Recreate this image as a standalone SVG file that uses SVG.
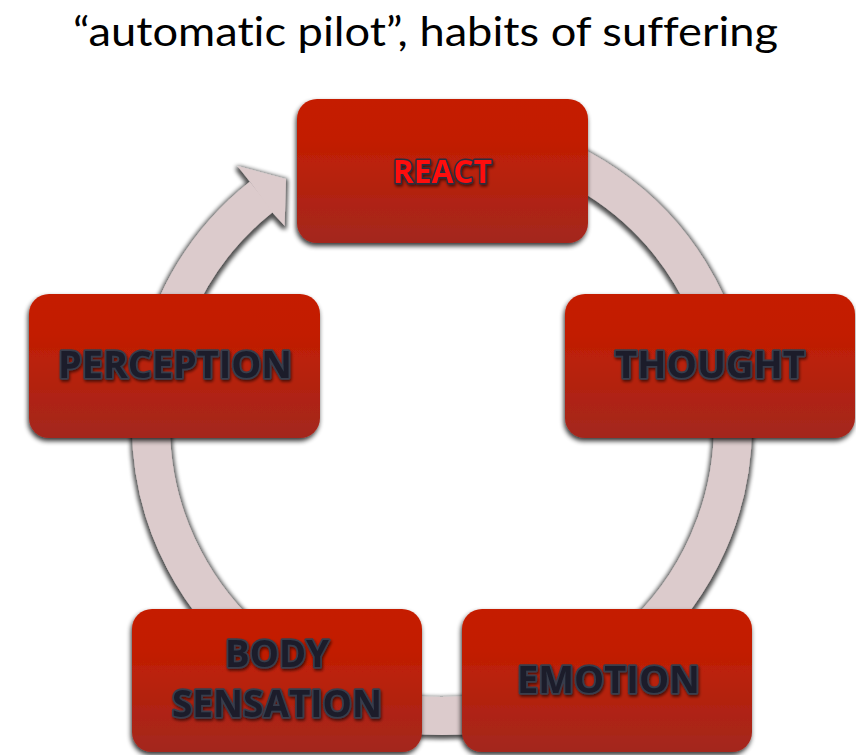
<svg xmlns="http://www.w3.org/2000/svg" width="856" height="755" viewBox="0 0 856 755">
  <defs>
    <linearGradient id="boxGrad" x1="0" y1="0" x2="0" y2="1">
      <stop offset="0" stop-color="#c51d00"/>
      <stop offset="0.28" stop-color="#c21e02"/>
      <stop offset="1" stop-color="#a3271e"/>
    </linearGradient>
    <filter id="boxShadow" x="-10%" y="-10%" width="120%" height="130%">
      <feGaussianBlur in="SourceAlpha" stdDeviation="2.5"/>
      <feOffset dx="-1" dy="3" result="b"/>
      <feComponentTransfer><feFuncA type="linear" slope="0.8"/></feComponentTransfer>
      <feMerge><feMergeNode/><feMergeNode in="SourceGraphic"/></feMerge>
    </filter>
    <filter id="ringShadow" x="-10%" y="-10%" width="120%" height="120%">
      <feMorphology in="SourceAlpha" operator="dilate" radius="1.5"/>
      <feGaussianBlur stdDeviation="2"/>
      <feOffset dx="0" dy="1.5" result="b"/>
      <feComponentTransfer><feFuncA type="linear" slope="0.7"/></feComponentTransfer>
      <feMerge><feMergeNode/><feMergeNode in="SourceGraphic"/></feMerge>
    </filter>
    <filter id="textShadow" x="-10%" y="-20%" width="120%" height="150%">
      <feGaussianBlur in="SourceAlpha" stdDeviation="1.5"/>
      <feOffset dx="1" dy="2"/>
      <feComponentTransfer><feFuncA type="linear" slope="0.6"/></feComponentTransfer>
      <feMerge><feMergeNode/><feMergeNode in="SourceGraphic"/></feMerge>
    </filter>
  </defs>
  <style>
    .box { fill: url(#boxGrad); filter: url(#boxShadow); }
    .lbl { font-family: "Open Sans", "Liberation Sans", sans-serif; font-weight: 700; font-size: 37px; text-anchor: middle; fill: #1b1e2c; stroke: #383d4c; stroke-width: 3.5; paint-order: stroke; stroke-linejoin: round; filter: url(#textShadow); }
    .react { font-size: 33px; fill: #ff1010; stroke: #2b2f3d; stroke-width: 3; }
    .title { font-family: "Lato", "Liberation Sans", sans-serif; font-size: 40px; fill: #000; text-anchor: middle; font-variant-ligatures: none; }
    .ring { fill: none; stroke: #dccbcc; stroke-width: 38; }
    .head { fill: #dccbcc; }
  </style>

  <text class="title" x="425.5" y="46" textLength="705" lengthAdjust="spacingAndGlyphs">“automatic pilot”, habits of suffering</text>

  <g id="connectors" filter="url(#ringShadow)">
    <path class="ring" d="M 492.5 138.4 A 291 291 0 1 1 261.6 196.6"/>
    <polygon class="head" points="251,183 237.5,166 286,179 284.6,225.7 272,212"/>
  </g>

  <g id="react">
    <rect class="box" x="297" y="99" width="291" height="144" rx="20"/>
    <text class="lbl react" x="442.5" y="183" textLength="99" lengthAdjust="spacingAndGlyphs">REACT</text>
  </g>
  <g id="thought">
    <rect class="box" x="565" y="294" width="290" height="144" rx="20"/>
    <text class="lbl" x="710" y="378" textLength="190" lengthAdjust="spacingAndGlyphs">THOUGHT</text>
  </g>
  <g id="emotion">
    <rect class="box" x="462" y="609" width="290" height="143" rx="20"/>
    <text class="lbl" x="608.5" y="693" textLength="183" lengthAdjust="spacingAndGlyphs">EMOTION</text>
  </g>
  <g id="body-sensation">
    <rect class="box" x="132" y="609" width="290" height="143" rx="20"/>
    <text class="lbl" x="277" y="667" textLength="104" lengthAdjust="spacingAndGlyphs">BODY</text>
    <text class="lbl" x="277" y="717" textLength="210" lengthAdjust="spacingAndGlyphs">SENSATION</text>
  </g>
  <g id="perception">
    <rect class="box" x="29" y="294" width="291" height="144" rx="20"/>
    <text class="lbl" x="175" y="378" textLength="234" lengthAdjust="spacingAndGlyphs">PERCEPTION</text>
  </g>
</svg>
